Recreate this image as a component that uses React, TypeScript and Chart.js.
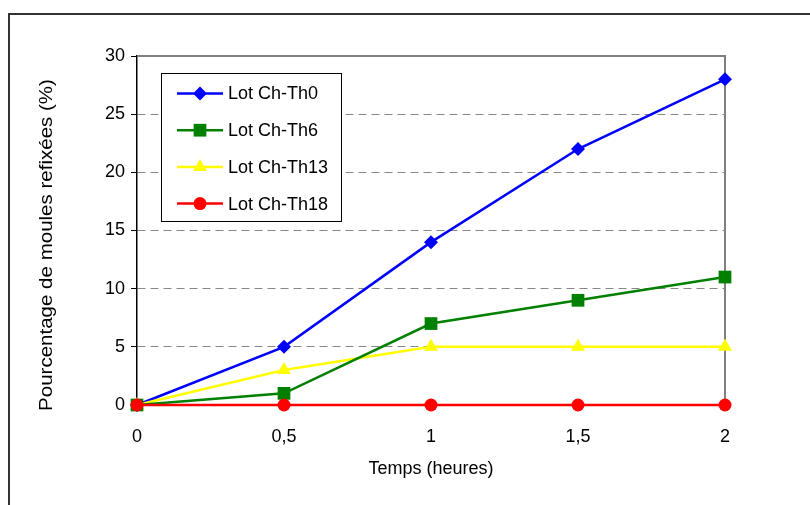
import React, { useEffect, useRef } from "react";
import { Chart, registerables } from "chart.js";

Chart.register(...registerables);

const xLabels = ["0", "0,5", "1", "1,5", "2"];
const seriesNames = ["Lot Ch-Th0", "Lot Ch-Th6", "Lot Ch-Th13", "Lot Ch-Th18"];
const th0 = [0, 5, 14, 22, 28];
const th6 = [0, 1, 7, 9, 11];
const th13 = [0, 3, 5, 5, 5];
const th18 = [0, 0, 0, 0, 0];
const yTitle = "Pourcentage de moules refixées (%)";
const xTitle = "Temps (heures)";

const FONT = "'Liberation Sans', Arial, sans-serif";

function drawMarker(ctx: CanvasRenderingContext2D, style: string, x: number, y: number, r: number, color: string) {
  ctx.save();
  ctx.fillStyle = color;
  ctx.beginPath();
  if (style === "rectRot") {
    ctx.moveTo(x, y - r);
    ctx.lineTo(x + r, y);
    ctx.lineTo(x, y + r);
    ctx.lineTo(x - r, y);
    ctx.closePath();
  } else if (style === "rect") {
    const s = r * Math.SQRT1_2;
    ctx.rect(x - s, y - s, 2 * s, 2 * s);
  } else if (style === "triangle") {
    const side = (3 * r) / Math.sqrt(3);
    const h = (side * Math.sqrt(3)) / 2;
    ctx.moveTo(x - side / 2, y + h / 3);
    ctx.lineTo(x + side / 2, y + h / 3);
    ctx.lineTo(x, y - (2 * h) / 3);
    ctx.closePath();
  } else {
    ctx.arc(x, y, r, 0, Math.PI * 2);
  }
  ctx.fill();
  ctx.restore();
}

const framePlugin = {
  id: "frame",
  beforeDraw(chart: any) {
    const ctx = chart.ctx;
    ctx.save();
    ctx.strokeStyle = "#333333";
    ctx.lineWidth = 2;
    ctx.strokeRect(9, 14, 1000, 1000);
    // y axis title
    ctx.translate(47, 245);
    ctx.rotate(-Math.PI / 2);
    ctx.scale(1.14, 1);
    ctx.font = `18px ${FONT}`;
    ctx.fillStyle = "#000000";
    ctx.textAlign = "center";
    ctx.textBaseline = "middle";
    ctx.fillText(yTitle, 0, 0);
    ctx.restore();
  },
  beforeDatasetsDraw(chart: any) {
    const { ctx, chartArea } = chart;
    ctx.save();
    ctx.strokeStyle = "#808080";
    ctx.lineWidth = 2;
    ctx.beginPath();
    ctx.moveTo(chartArea.left, chartArea.top);
    ctx.lineTo(chartArea.right, chartArea.top);
    ctx.lineTo(chartArea.right, chartArea.bottom);
    ctx.stroke();
    ctx.restore();
  },
  afterDraw(chart: any) {
    const ctx = chart.ctx;
    const bx = 161.5, by = 73.5, bw = 180, bh = 148;
    ctx.save();
    ctx.fillStyle = "#ffffff";
    ctx.fillRect(bx, by, bw, bh);
    ctx.strokeStyle = "#000000";
    ctx.lineWidth = 1;
    ctx.strokeRect(bx, by, bw, bh);
    ctx.font = `18px ${FONT}`;
    ctx.textBaseline = "middle";
    ctx.textAlign = "left";
    chart.data.datasets.forEach((ds: any, i: number) => {
      const y = 93.5 + i * 36.7;
      ctx.strokeStyle = ds.borderColor;
      ctx.lineWidth = ds.borderWidth;
      ctx.beginPath();
      ctx.moveTo(177, y);
      ctx.lineTo(223, y);
      ctx.stroke();
      drawMarker(ctx, ds.pointStyle, 200, y, ds.pointRadius, ds.pointBackgroundColor);
      ctx.fillStyle = "#000000";
      ctx.fillText(ds.label, 228, y + 1);
    });
    ctx.restore();
  },
};

export default function App() {
  const ref = useRef<HTMLCanvasElement>(null);
  useEffect(() => {
    if (!ref.current) return;
    Chart.defaults.font.family = FONT;
    Chart.defaults.color = "#000000";
    const mk = (label: string, data: number[], color: string, style: string, r: number, order: number) => ({
      label,
      data,
      borderColor: color,
      backgroundColor: color,
      pointBackgroundColor: color,
      pointBorderColor: color,
      pointBorderWidth: 0,
      borderWidth: 2.5,
      pointStyle: style,
      pointRadius: r,
      pointHoverRadius: r,
      tension: 0,
      clip: false,
      order,
    });
    const chart = new Chart(ref.current, {
      type: "line",
      data: {
        labels: xLabels,
        datasets: [
          mk(seriesNames[0], th0, "#0000ff", "rectRot", 7, 3),
          mk(seriesNames[1], th6, "#008000", "rect", 9, 1),
          mk(seriesNames[2], th13, "#ffff00", "triangle", 8, 2),
          mk(seriesNames[3], th18, "#ff0000", "circle", 6.5, 0),
        ],
      } as any,
      plugins: [framePlugin],
      options: {
        animation: false,
        responsive: false,
        events: [],
        layout: { padding: { top: 56, right: 85, left: 0, bottom: 0 } },
        plugins: { legend: { display: false }, tooltip: { enabled: false } },
        scales: {
          x: {
            type: "category",
            offset: false,
            afterFit: (s: any) => { s.height = 100; },
            grid: { display: true, drawOnChartArea: false, tickLength: 5, color: "#000000" },
            border: { display: true, color: "#000000", width: 1.5 },
            ticks: { font: { size: 18 }, padding: 16, maxRotation: 0, color: "#000" },
            title: { display: true, text: xTitle, font: { size: 18 }, padding: { top: 0, bottom: 25 }, color: "#000" },
          },
          y: {
            min: 0,
            max: 30,
            afterFit: (s: any) => { s.width = 137; },
            grid: {
              color: "#888888",
              lineWidth: 1,
              tickLength: 6,
              tickColor: "#000000",
              tickBorderDash: [],
            } as any,
            border: { display: true, color: "#000000", width: 1.5, dash: [8, 5] } as any,
            ticks: { stepSize: 5, font: { size: 18 }, padding: 6, color: "#000" },
            title: { display: false },
          },
        },
      } as any,
    });
    return () => chart.destroy();
  }, []);
  return (
    <div style={{ position: "fixed", left: 0, top: 0, width: 810, height: 505, background: "#fff" }}>
      <canvas ref={ref} width={810} height={505} style={{ display: "block" }} />
    </div>
  );
}
